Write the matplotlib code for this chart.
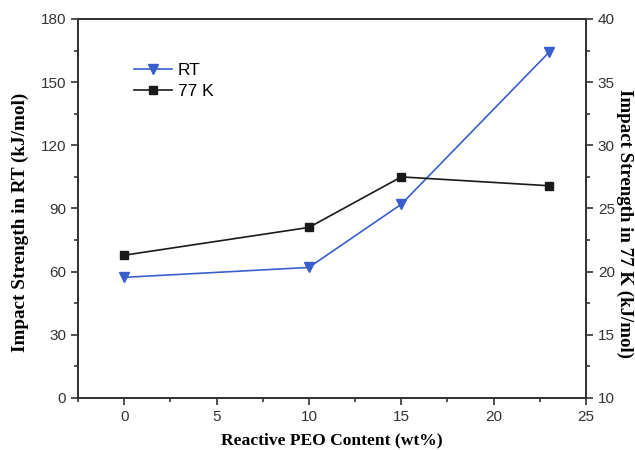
import matplotlib.pyplot as plt
from matplotlib.ticker import MultipleLocator

# Impact strength vs reactive PEO content
peo_content = [0, 10, 15, 23]
impact_rt = [57.3, 62.0, 92.0, 164.2]      # kJ/mol, left axis
impact_77k = [21.3, 23.5, 27.5, 26.8]      # kJ/mol, right axis

blue = '#3a5fcd'
dark = '#1a1a1a'
tick_font = 'Liberation Sans'
label_font = 'Liberation Serif'

fig = plt.figure(figsize=(6.35, 4.5), dpi=100)
ax = fig.add_axes([0.1228, 0.1156, 0.8000, 0.8422])
ax2 = ax.twinx()

l1, = ax.plot(peo_content, impact_rt, color=blue, lw=1.2, marker='v',
              markersize=7, label='RT')
l2, = ax2.plot(peo_content, impact_77k, color=dark, lw=1.2, marker='s',
               markersize=6, label='77 K')

ax.set_xlim(-2.5, 25)
ax.set_ylim(0, 180)
ax2.set_ylim(10, 40)

ax.xaxis.set_major_locator(MultipleLocator(5))
ax.xaxis.set_minor_locator(MultipleLocator(2.5))
ax.yaxis.set_major_locator(MultipleLocator(30))
ax.yaxis.set_minor_locator(MultipleLocator(15))
ax2.yaxis.set_major_locator(MultipleLocator(5))
ax2.yaxis.set_minor_locator(MultipleLocator(2.5))

for a in (ax, ax2):
    a.tick_params(which='major', direction='out', length=5, width=1.2,
                  labelsize=11, color='#333333')
    a.tick_params(which='minor', direction='out', length=3, width=1.2,
                  color='#333333')
    for s in a.spines.values():
        s.set_linewidth(1.3)
        s.set_color('#333333')
    for lab in a.get_xticklabels() + a.get_yticklabels():
        lab.set_fontfamily(tick_font)
        lab.set_color('#333333')
ax.tick_params(axis='x', which='both', top=False)

ax.set_xlabel('Reactive PEO Content (wt%)', fontfamily=label_font,
              fontweight='bold', fontsize=12.6, labelpad=6)
ax.set_ylabel('Impact Strength in RT (kJ/mol)', fontfamily=label_font,
              fontweight='bold', fontsize=13.8, va='center', ha='center')
ax.yaxis.set_label_coords(-0.114, 0.464)
ax2.set_ylabel('Impact Strength in 77 K (kJ/mol)', fontfamily=label_font,
               fontweight='bold', fontsize=13.6, rotation=270,
               va='center', ha='center')
ax2.yaxis.set_label_coords(1.077, 0.46)

ax.legend(handles=[l1, l2], loc='upper left', bbox_to_anchor=(0.08, 0.925),
          frameon=False, prop={'family': tick_font, 'size': 12.5},
          handlelength=2.2, handletextpad=0.3, labelspacing=0.35)

fig.savefig('out.png', dpi=100)
